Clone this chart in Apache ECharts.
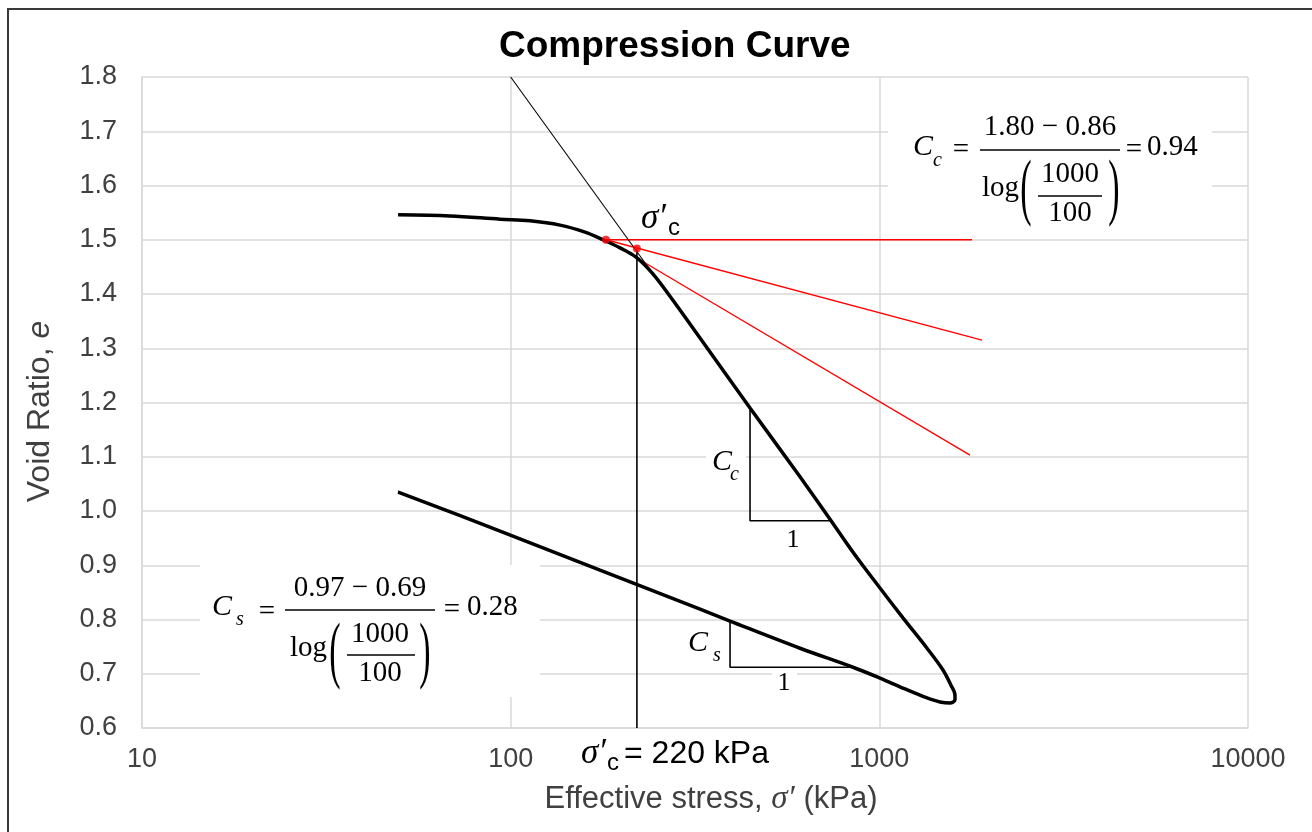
<!DOCTYPE html>
<html>
<head>
<meta charset="utf-8">
<script src="https://cdn.jsdelivr.net/npm/echarts@6/dist/echarts.min.js"></script>
<style>
  html, body { margin: 0; padding: 0; background: #fff; }
  #chart { width: 1312px; height: 832px; }
</style>
</head>
<body>
<div id="chart"></div>
<script>
// loading branch (kPa, e)
var loadStress = [49.5, 68.45, 93.6, 112.8, 136.1, 159.1, 178.0, 198.0, 218.8, 241.8, 270.5, 326.3, 445.9, 609.3, 734.9, 848.3, 1004, 1159, 1347, 1488, 1564, 1604, 1604];
var loadVoid   = [1.546, 1.544, 1.538, 1.535, 1.527, 1.514, 1.500, 1.485, 1.468, 1.439, 1.396, 1.319, 1.190, 1.063, 0.985, 0.924, 0.858, 0.803, 0.747, 0.707, 0.679, 0.661, 0.652];
// unloading branch
var unloadStress = [1555, 1461, 1330, 1174, 1004, 848.3, 609.3, 393.6, 326.3, 174.7, 93.6, 49.5];
var unloadVoid   = [0.646, 0.648, 0.657, 0.672, 0.692, 0.712, 0.747, 0.797, 0.819, 0.891, 0.963, 1.035];

// construction lines
var compLine   = [[100, 1.80], [1000, 0.86]];   // virgin compression line, Cc
var pcLine     = [[220, 1.482], [220, 0.6]];    // sigma'c = 220 kPa
var horizLine  = [[181.4, 1.5], [1784, 1.5]];
var tangLine   = [[181.4, 1.5], [1762, 1.103]];
var bisectLine = [[181.4, 1.5], [1899, 1.315]];
var redPoints  = [[181.4, 1.5], [220, 1.484]];
var ccTriangle = [[445.9, 1.192], [445.9, 0.982], [734.9, 0.982]];
var csTriangle = [[393.6, 0.797], [393.6, 0.712], [832.6, 0.712]];

var xTicks = [10, 100, 1000, 10000];

function zip(xs, ys) {
    var out = [];
    for (var i = 0; i < xs.length; i++) out.push([xs[i], ys[i]]);
    return out;
}
var curve = zip(loadStress, loadVoid).concat(zip(unloadStress, unloadVoid));

function lineSeries(data, color, width, extra) {
    var s = {
        type: 'line',
        data: data,
        showSymbol: false,
        silent: true,
        lineStyle: { color: color, width: width },
        z: 3
    };
    for (var k in extra) s[k] = extra[k];
    return s;
}

var SERIF = '"Liberation Serif", "DejaVu Serif", serif';
var SANS = '"Liberation Sans", Arial, sans-serif';

function txt(x, y, s, font, align) {
    return { type: 'text', x: x, y: y, z: 50,
        style: { text: s, font: font, fill: '#000', align: align || 'left', verticalAlign: 'middle' } };
}
function bar(x1, x2, y, w) {
    return { type: 'line', z: 50, shape: { x1: x1, y1: y, x2: x2, y2: y },
        style: { stroke: '#000', lineWidth: w || 1.5 } };
}
function box(x, y, w, h) {
    return { type: 'rect', z: 49, shape: { x: x, y: y, width: w, height: h }, style: { fill: '#fff' } };
}
function paren(x, y, ch) {
    return { type: 'text', x: x, y: y, z: 50, scaleY: 2.2,
        style: { text: ch, font: '34px ' + SERIF, fill: '#000', align: 'center', verticalAlign: 'middle' } };
}

var fIt = 'italic 30px ' + SERIF;
var fSub = 'italic 20px ' + SERIF;
var fNum = '29px ' + SERIF;

var graphics = [
    // outer frame
    { type: 'rect', z: 60, shape: { x: 8, y: 9, width: 1320, height: 840 },
      style: { fill: null, stroke: '#3a3a3a', lineWidth: 2 } },

    // Cc equation
    box(888, 100, 324, 135),
    txt(913, 147, 'C', fIt), txt(933, 161, 'c', fSub),
    txt(961, 150, '=', fNum, 'center'),
    bar(980, 1120, 150),
    txt(1050, 127, '1.80 \u2212 0.86', fNum, 'center'),
    txt(982, 188, 'log', fNum),
    paren(1026, 191, '('), paren(1114, 191, ')'),
    txt(1070, 174, '1000', fNum, 'center'),
    bar(1038, 1102, 196),
    txt(1070, 213, '100', fNum, 'center'),
    txt(1134, 150, '=', fNum, 'center'),
    txt(1147, 147, '0.94', fNum),

    // Cs equation
    box(200, 565, 340, 132),
    txt(212, 607, 'C', fIt), txt(236, 620, 's', fSub),
    txt(267, 612, '=', fNum, 'center'),
    bar(285, 435, 610),
    txt(360, 588, '0.97 \u2212 0.69', fNum, 'center'),
    txt(290, 648, 'log', fNum),
    paren(335, 654, '('), paren(425, 654, ')'),
    txt(380, 634, '1000', fNum, 'center'),
    bar(347, 415, 655),
    txt(380, 673, '100', fNum, 'center'),
    txt(452, 610, '=', fNum, 'center'),
    txt(467, 607, '0.28', fNum),

    // triangle labels
    box(706, 446, 40, 38),
    txt(712, 462, 'C', fIt), txt(730, 475, 'c', fSub),
    txt(793, 540, '1', '26px ' + SERIF, 'center'),
    txt(688, 643, 'C', fIt), txt(713, 656, 's', fSub),
    box(772, 671, 25, 24),
    txt(784, 683, '1', '26px ' + SERIF, 'center'),

    // sigma'c labels
    txt(641, 219, '\u03c3\u2032', 'italic 35px ' + SERIF), txt(668, 228, 'c', '24px ' + SANS),
    txt(581, 754, '\u03c3\u2032', 'italic 35px ' + SERIF), txt(607, 763, 'c', '24px ' + SANS),
    txt(624, 754, '= 220 kPa', '32px ' + SANS)
];

var chart = echarts.init(document.getElementById('chart'));
var option = {
    animation: false,
    backgroundColor: '#fff',
    title: {
        text: 'Compression Curve',
        left: 494,
        top: 23,
        textStyle: { fontFamily: SANS, fontSize: 37, fontWeight: 'bold', color: '#000' }
    },
    grid: { left: 142, right: 64, top: 77, bottom: 104 },
    xAxis: {
        type: 'log',
        logBase: 10,
        min: xTicks[0],
        max: xTicks[xTicks.length - 1],
        name: 'Effective stress, {s|\u03c3\u2032} (kPa)',
        nameLocation: 'middle',
        nameGap: 55,
        nameTextStyle: {
            fontFamily: SANS, fontSize: 31, color: '#404040', padding: [0, 0, 0, 32],
            rich: { s: { fontFamily: SERIF, fontStyle: 'italic', fontSize: 33, color: '#404040' } }
        },
        axisLine: { show: true, lineStyle: { color: '#d9d9d9', width: 1.5 } },
        axisTick: { show: false },
        axisLabel: {
            margin: 18, fontFamily: SANS, fontSize: 27, color: '#404040',
            formatter: function (v) { return String(Math.round(v)); }
        },
        splitLine: { show: true, lineStyle: { color: '#d9d9d9', width: 1.5 } },
        minorTick: { show: false }
    },
    yAxis: {
        type: 'value',
        min: 0.6,
        max: 1.8,
        interval: 0.1,
        name: 'Void Ratio, {e|e}',
        nameLocation: 'middle',
        nameGap: 86,
        nameTextStyle: {
            fontFamily: SANS, fontSize: 32, color: '#404040', padding: [0, 18, 0, 0],
            rich: { e: { fontFamily: SANS, fontStyle: 'italic', fontSize: 32, color: '#404040' } }
        },
        axisLine: { show: true, lineStyle: { color: '#d9d9d9', width: 1.5 } },
        axisTick: { show: false },
        axisLabel: {
            margin: 25, fontFamily: SANS, fontSize: 27, color: '#404040',
            formatter: function (v) { return v.toFixed(1); }
        },
        splitLine: { show: true, lineStyle: { color: '#d9d9d9', width: 1.5 } }
    },
    series: [
        lineSeries(horizLine, '#ff0000', 1.3),
        lineSeries(tangLine, '#ff0000', 1.3),
        lineSeries(bisectLine, '#ff0000', 1.3),
        lineSeries(compLine, '#000', 1.1),
        lineSeries(pcLine, '#000', 1.6),
        lineSeries(ccTriangle, '#000', 1.6),
        lineSeries(csTriangle, '#000', 1.6),
        lineSeries(curve, '#000', 3.5, { smooth: 0.35, z: 4 }),
        {
            type: 'scatter',
            data: redPoints,
            symbolSize: 8,
            silent: true,
            itemStyle: { color: '#ff0000' },
            z: 5
        }
    ],
    graphic: graphics
};
chart.setOption(option);
</script>
</body>
</html>
